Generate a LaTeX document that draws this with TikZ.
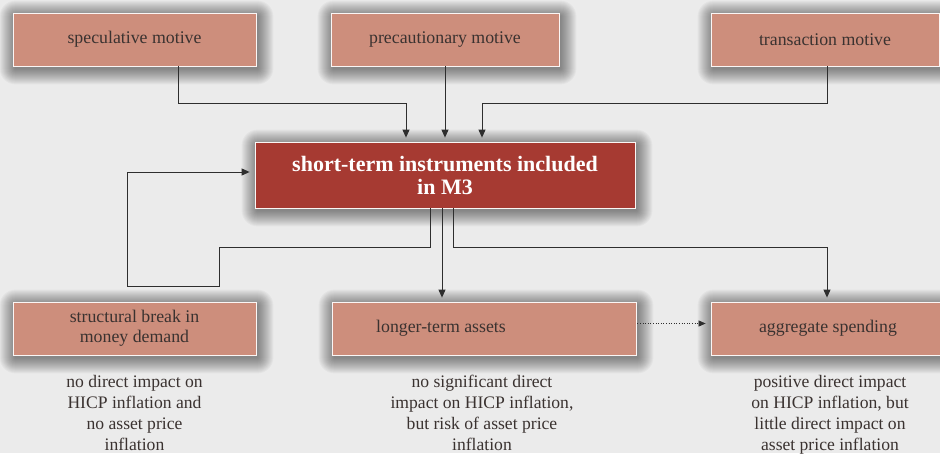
\documentclass[tikz,border=0pt]{standalone}
\usepackage{fontspec}
\setmainfont{LiberationSerif}[Extension=.ttf, UprightFont=*-Regular, BoldFont=*-Bold, ItalicFont=*-Italic, BoldItalicFont=*-BoldItalic]
\usetikzlibrary{arrows.meta}

\definecolor{bgc}{HTML}{EBEBEB}
\definecolor{boxc}{HTML}{CD8E7C}
\definecolor{corec}{HTML}{A63A32}
\definecolor{txtc}{HTML}{3A3230}
\definecolor{linec}{HTML}{2E2E2E}

\pgfdeclarelayer{canvas}
\pgfdeclarelayer{shades}
\pgfsetlayers{canvas,shades,main}

% soft drop shadow built from stacked translucent rectangles
\newcommand\dropshade[1]{%
  \begin{pgfonlayer}{shades}
    \foreach \r in {0,...,15} {
      \fill[black, opacity=0.032, rounded corners={\r pt+1pt}]
        ([xshift={2pt-\r pt}, yshift={-3pt-\r pt}]#1.south west) rectangle
        ([xshift={2pt+\r pt}, yshift={-3pt+\r pt}]#1.north east);
    }
  \end{pgfonlayer}}

\tikzset{
  shade box/.style={draw=white!92!boxc, line width=0.8pt,
    inner sep=0pt, align=center, text=txtc,
    font=\fontsize{17.8}{20}\selectfont},
  motivebox/.style={shade box, fill=boxc, minimum height=53pt},
  corebox/.style={shade box, fill=corec, text=white,
    font=\bfseries\fontsize{22}{23}\selectfont,
    minimum width=380pt, minimum height=66pt},
  note/.style={inner sep=0pt, align=center, text=txtc, anchor=north,
    font=\fontsize{17.6}{21}\selectfont},
  arr/.style={draw=linec, line width=0.9pt,
    -{Triangle[length=8pt,width=7pt]}, shorten >=4pt},
  dotarr/.style={draw=linec, line width=0.6pt, dotted,
    -{Triangle[length=7pt,width=6pt]}, shorten >=5pt, shorten <=1pt}
}

\begin{document}
\begin{tikzpicture}[x=1pt,y=-1pt]
  % canvas
  \begin{pgfonlayer}{canvas}
    \fill[bgc] (0,0) rectangle (940,453);
  \end{pgfonlayer}
  \useasboundingbox (0,0) rectangle (940,453);

  % motives
  \node[motivebox, minimum width=243pt] (spec) at (134.5,39.5) {speculative motive};
  \node[motivebox, minimum width=228pt] (prec) at (445,39.5) {precautionary motive};
  \node[motivebox, minimum width=228pt] (trans) at (825,39.5) {transaction motive};

  % central instrument box
  \node[corebox] (core) at (445,175) {short-term instruments included\\in M3};

  % outcomes
  \node[motivebox, minimum width=243pt] (brk) at (134.5,328.5) {structural break in\\money demand};
  \node[motivebox, minimum width=304pt] (lt) at (484,328.5) {};
  \node[inner sep=0pt, text=txtc, font=\fontsize{17.8}{20}\selectfont] (ltlab) at (441,328.5) {longer-term assets};
  \node[motivebox, minimum width=234pt] (agg) at (828,328.5) {aggregate spending};

  \dropshade{spec}
  \dropshade{prec}
  \dropshade{trans}
  \dropshade{core}
  \dropshade{brk}
  \dropshade{lt}
  \dropshade{agg}

  % notes on the outcomes
  \node[note] (n1) at (134.5,375) {no direct impact on\\HICP inflation and\\no asset price\\inflation};
  \node[note] (n2) at (482,375) {no significant direct\\impact on HICP inflation,\\but risk of asset price\\inflation};
  \node[note] (n3) at (830,375) {positive direct impact\\on HICP inflation, but\\little direct impact on\\asset price inflation};

  % motives feeding the instruments
  \draw[arr] ([xshift=43.5pt]spec.south) |- (406,103) -- ([xshift=-39pt]core.north);
  \draw[arr] (prec.south) -- (core.north);
  \draw[arr] ([xshift=2pt]trans.south) |- (482,103) -- ([xshift=37pt]core.north);

  % feedback loop through the structural break
  \draw[arr, shorten >=5pt] ([xshift=-15pt]core.south) |- (219,247) |- (127,286)
     |- ([yshift=3pt]core.west);

  % instruments to outcomes
  \draw[arr] ([xshift=-3pt]core.south) -- ([xshift=-3pt]core.south |- lt.north);
  \draw[arr] ([xshift=8pt]core.south) |- ([xshift=-1pt]agg.north |- 0,247)
     -- ([xshift=-1pt]agg.north);

  % indirect channel
  \draw[dotarr] ([yshift=5pt]lt.east) -- ([yshift=5pt]agg.west);
\end{tikzpicture}
\end{document}
